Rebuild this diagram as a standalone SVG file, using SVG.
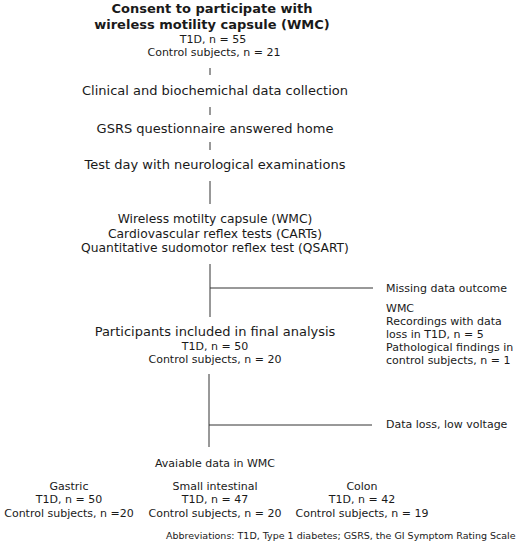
<svg xmlns="http://www.w3.org/2000/svg" width="530" height="550" viewBox="0 0 530 550">
<style>
text{font-family:"DejaVu Sans",Verdana,sans-serif;fill:#1a1a1a;}
.t{font-size:13px;font-weight:bold;text-anchor:middle;}
.m{font-size:13px;text-anchor:middle;}
.s{font-size:11px;text-anchor:middle;}
.k{font-size:12.3px;text-anchor:middle;}
.r{font-size:11px;}
.a{font-size:9.5px;}
.ln{stroke:#333;stroke-width:1;fill:none;}
</style>
<rect width="530" height="550" fill="#fff"/>
<g id="consent">
<text class="t" x="212" y="13">Consent to participate with</text>
<text class="t" x="212" y="29">wireless motility capsule (WMC)</text>
<text class="s" x="213" y="43">T1D, n = 55</text>
<text class="s" x="214" y="56">Control subjects, n = 21</text>
</g>
<g id="clinical"><text class="m" x="215" y="95">Clinical and biochemichal data collection</text></g>
<g id="gsrs"><text class="m" x="215" y="133">GSRS questionnaire answered home</text></g>
<g id="testday"><text class="m" x="215" y="169">Test day with neurological examinations</text></g>
<g id="tests">
<text class="k" x="215" y="223">Wireless motilty capsule (WMC)</text>
<text class="k" x="215" y="238">Cardiovascular reflex tests (CARTs)</text>
<text class="k" x="215" y="252">Quantitative sudomotor reflex test (QSART)</text>
</g>
<g id="missing">
<text class="r" x="386" y="292">Missing data outcome</text>
<text class="r" x="386" y="312">WMC</text>
<text class="r" x="386" y="325">Recordings with data</text>
<text class="r" x="386" y="338">loss in T1D, n = 5</text>
<text class="r" x="386" y="351">Pathological findings in</text>
<text class="r" x="386" y="364">control subjects, n = 1</text>
</g>
<g id="participants">
<text class="m" x="215" y="336">Participants included in final analysis</text>
<text class="s" x="215" y="350">T1D, n = 50</text>
<text class="s" x="215" y="363">Control subjects, n = 20</text>
</g>
<g id="dataloss"><text class="r" x="386" y="428">Data loss, low voltage</text></g>
<g id="available"><text class="s" x="215" y="467">Avaiable data in WMC</text></g>
<g id="gastric">
<text class="s" x="69" y="490">Gastric</text>
<text class="s" x="69" y="503">T1D, n = 50</text>
<text class="s" x="69" y="517">Control subjects, n =20</text>
</g>
<g id="small">
<text class="s" x="215" y="490">Small intestinal</text>
<text class="s" x="215" y="503">T1D, n = 47</text>
<text class="s" x="215" y="517">Control subjects, n = 20</text>
</g>
<g id="colon">
<text class="s" x="362" y="490">Colon</text>
<text class="s" x="362" y="503">T1D, n = 42</text>
<text class="s" x="362" y="517">Control subjects, n = 19</text>
</g>
<g id="abbrev"><text class="a" x="166" y="539">Abbreviations: T1D, Type 1 diabetes; GSRS, the GI Symptom Rating Scale</text></g>
<g id="connectors" class="ln">
<line x1="210" y1="68" x2="210" y2="75"/>
<line x1="210" y1="107" x2="210" y2="115"/>
<line x1="210" y1="142" x2="210" y2="150"/>
<line x1="210" y1="181" x2="210" y2="204"/>
<line x1="210" y1="264" x2="210" y2="317"/>
<line x1="210" y1="288" x2="373" y2="288"/>
<line x1="209" y1="374" x2="209" y2="447"/>
<line x1="209" y1="425" x2="372" y2="425"/>
</g>
</svg>
